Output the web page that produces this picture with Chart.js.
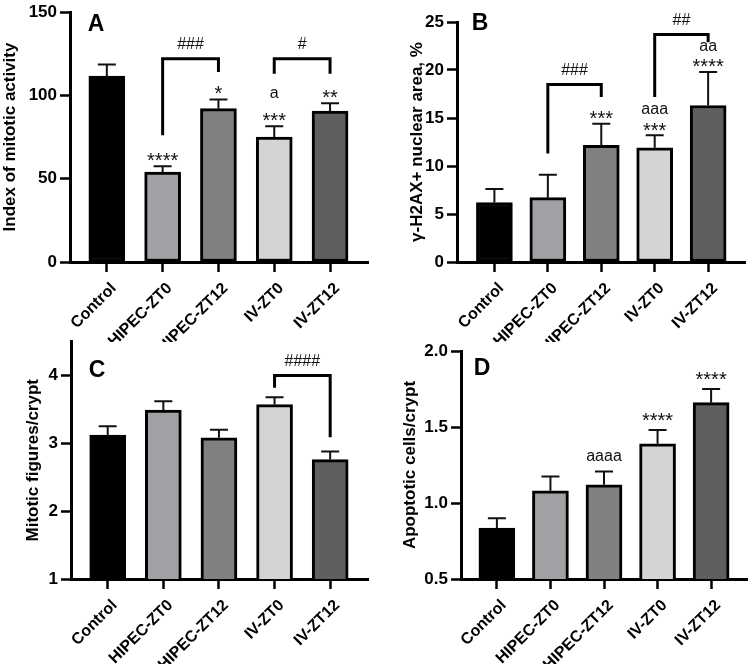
<!DOCTYPE html>
<html>
<head>
<meta charset="utf-8">
<script src="https://cdn.jsdelivr.net/npm/chart.js@4/dist/chart.umd.min.js"></script>
<style>
  html, body { margin: 0; padding: 0; background: #fff; }
  #wrap { position: relative; width: 750px; height: 664px; overflow: hidden; }
  canvas { position: absolute; }
</style>
</head>
<body>
<div id="wrap">
  <canvas id="panelA" width="375" height="342" style="left:0;top:0"></canvas>
  <canvas id="panelB" width="375" height="342" style="left:375px;top:0"></canvas>
  <canvas id="panelC" width="375" height="334" style="left:0;top:330px"></canvas>
  <canvas id="panelD" width="375" height="334" style="left:375px;top:330px"></canvas>
</div>
<script>
// Groups and fills, shared by the four panels
const categories = ["Control", "HIPEC-ZT0", "HIPEC-ZT12", "IV-ZT0", "IV-ZT12"];
const barColors = ["#000000", "#a1a1a5", "#808080", "#d4d4d4", "#5f5f5f"];

// A - index of mitotic activity
const mitoticIndex = [111.5, 54, 92, 75, 90.5];
const mitoticIndexSd = [7, 3.5, 5.5, 6.5, 4.7];
const mitoticIndexStars = ["", "****", "*", "***", "**"];
const mitoticIndexLetters = ["", "", "", "a", ""];
const mitoticIndexBrackets = [
  // from, to, top, left leg end, right leg end, label
  [1, 2, 122, 76, 114, "###"],
  [3, 4, 122, 113, 113, "#"],
];

// B - gamma-H2AX positive nuclear area
const h2axArea = [6.2, 6.7, 12.15, 11.9, 16.3];
const h2axAreaSd = [1.4, 2.4, 2.25, 1.3, 3.5];
const h2axStars = ["", "", "***", "***", "****"];
const h2axLetters = ["", "", "", "aaa", "aa"];
const h2axBrackets = [
  [1, 2, 18.5, 11.3, 17.2, "###"],
  [3, 4, 23.7, 17.2, 22.9, "##"],
];

// C - mitotic figures per crypt
const mitoticFigures = [3.12, 3.49, 3.08, 3.57, 2.76];
const mitoticFiguresSd = [0.13, 0.13, 0.12, 0.11, 0.12];
const mitoticFiguresStars = ["", "", "", "", ""];
const mitoticFiguresLetters = ["", "", "", "", ""];
const mitoticFiguresBrackets = [[3, 4, 4.0, 3.82, 3.09, "####"]];

// D - apoptotic cells per crypt
const apoptoticCells = [0.835, 1.08, 1.12, 1.39, 1.66];
const apoptoticCellsSd = [0.065, 0.095, 0.087, 0.09, 0.09];
const apoptoticStars = ["", "", "", "****", "****"];
const apoptoticLetters = ["", "", "aaaa", "", ""];
const apoptoticBrackets = [];

Chart.defaults.font.family = "'Liberation Sans', Arial, sans-serif";
Chart.defaults.color = "#000";

const markPlugin = {
  id: "marks",
  afterDatasetsDraw(chart, args, opts) {
    const ctx = chart.ctx;
    const xs = chart.scales.x;
    const ys = chart.scales.y;
    ctx.save();

    // error bars (upper SD only)
    ctx.strokeStyle = "#111";
    ctx.lineWidth = 2;
    opts.values.forEach((v, i) => {
      const x = xs.getPixelForValue(i);
      const y0 = ys.getPixelForValue(v);
      const y1 = ys.getPixelForValue(v + opts.sd[i]);
      ctx.beginPath();
      ctx.moveTo(x, y0);
      ctx.lineTo(x, y1);
      ctx.moveTo(x - 9, y1);
      ctx.lineTo(x + 9, y1);
      ctx.stroke();
    });

    // significance marks above bars
    ctx.fillStyle = "#111";
    ctx.textAlign = "center";
    ctx.textBaseline = "alphabetic";
    opts.values.forEach((v, i) => {
      const x = xs.getPixelForValue(i);
      const top = ys.getPixelForValue(v + opts.sd[i]);
      let center = top - opts.gap;
      if (opts.stars[i]) {
        ctx.font = "20px 'Liberation Sans', Arial, sans-serif";
        ctx.fillText(opts.stars[i], x, center + 11.5);
        center -= opts.letterGap;
      }
      if (opts.letters[i]) {
        ctx.font = "16px 'Liberation Sans', Arial, sans-serif";
        ctx.fillText(opts.letters[i], x, center + 4);
      }
    });

    // comparison brackets
    ctx.lineWidth = 3;
    ctx.lineJoin = "miter";
    ctx.strokeStyle = "#000";
    opts.brackets.forEach(([from, to, top, leftEnd, rightEnd, label]) => {
      const x1 = xs.getPixelForValue(from);
      const x2 = xs.getPixelForValue(to);
      const yTop = ys.getPixelForValue(top);
      ctx.beginPath();
      ctx.moveTo(x1, ys.getPixelForValue(leftEnd));
      ctx.lineTo(x1, yTop);
      ctx.lineTo(x2, yTop);
      ctx.lineTo(x2, ys.getPixelForValue(rightEnd));
      ctx.stroke();
      ctx.font = "16px 'Liberation Sans', Arial, sans-serif";
      ctx.fillText(label, (x1 + x2) / 2, yTop - 15 + 5.5);
    });

    // panel letter
    ctx.font = "bold 23px 'Liberation Sans', Arial, sans-serif";
    ctx.fillStyle = "#000";
    ctx.textBaseline = "middle";
    ctx.fillText(opts.letter, opts.letterX, opts.letterY);
    ctx.restore();
  },
};

function makePanel(id, p) {
  const canvas = document.getElementById(id);
  return new Chart(canvas.getContext("2d"), {
    type: "bar",
    data: {
      datasets: [
        {
          data: p.values.map((v, i) => ({ x: i, y: v })),
          backgroundColor: barColors,
          borderColor: "#000",
          borderWidth: 3,
          borderSkipped: false,
          barThickness: 36,
        },
      ],
    },
    plugins: [markPlugin],
    options: {
      responsive: false,
      animation: false,
      layout: { padding: { top: p.padTop, right: p.padRight, left: 0, bottom: 0 } },
      plugins: {
        legend: { display: false },
        tooltip: { enabled: false },
        marks: {
          values: p.values,
          sd: p.sd,
          stars: p.stars,
          letters: p.letters,
          brackets: p.brackets,
          gap: p.gap,
          letterGap: p.letterGap,
          letter: p.letter,
          letterX: p.letterX,
          letterY: p.letterY,
        },
      },
      scales: {
        x: {
          type: "linear",
          min: p.xMin,
          max: p.xMax,
          offset: false,
          afterBuildTicks: (scale) => {
            scale.ticks = categories.map((c, i) => ({ value: i }));
          },
          afterFit: (scale) => {
            scale.height = p.xAxisHeight;
          },
          grid: {
            offset: false,
            drawOnChartArea: false,
            drawTicks: true,
            tickLength: 10,
            tickWidth: 2.5,
            tickColor: "#000",
          },
          border: { color: "#000", width: 3 },
          ticks: {
            autoSkip: false,
            minRotation: 45,
            maxRotation: 45,
            padding: 7,
            labelOffset: 7,
            color: "#000",
            font: { size: 16, weight: "bold" },
            callback: (v) => categories[v],
          },
        },
        y: {
          min: p.yMin,
          max: p.yMax,
          afterBuildTicks: (scale) => {
            scale.ticks = scale.ticks.filter((t) => t.value <= p.yTop + 1e-9);
          },
          afterFit: (scale) => {
            scale.width = p.yAxisWidth;
          },
          grid: {
            drawOnChartArea: false,
            drawTicks: true,
            tickLength: 10,
            tickWidth: 2.5,
            tickColor: "#000",
          },
          border: { color: "#000", width: 3 },
          ticks: {
            stepSize: p.step,
            padding: 3,
            color: "#000",
            font: { size: 17, weight: "bold", lineHeight: 1 },
            callback: p.tickFormat,
          },
          title: {
            display: true,
            text: p.title,
            color: "#000",
            padding: { top: p.titlePad, bottom: 0 },
            font: { size: 17, weight: "bold" },
          },
        },
      },
    },
  });
}

makePanel("panelA", {
  values: mitoticIndex, sd: mitoticIndexSd, stars: mitoticIndexStars,
  letters: mitoticIndexLetters, brackets: mitoticIndexBrackets,
  gap: 11, letterGap: 21, letter: "A", letterX: 96, letterY: 25,
  yMin: 0, yMax: 150, yTop: 150, step: 50, tickFormat: (v) => v,
  title: "Index of mitotic activity", titlePad: 0,
  xMin: -0.66, xMax: 4.68, padTop: 12, padRight: 7,
  yAxisWidth: 70, xAxisHeight: 80,
});

makePanel("panelB", {
  values: h2axArea, sd: h2axAreaSd, stars: h2axStars,
  letters: h2axLetters, brackets: h2axBrackets,
  gap: 10, letterGap: 15, letter: "B", letterX: 105, letterY: 24,
  yMin: 0, yMax: 25, yTop: 25, step: 5, tickFormat: (v) => v,
  title: "γ-H2AX+ nuclear area, %", titlePad: 32,
  xMin: -0.7, xMax: 4.69, padTop: 22, padRight: 5,
  yAxisWidth: 82, xAxisHeight: 80,
});

makePanel("panelC", {
  values: mitoticFigures, sd: mitoticFiguresSd, stars: mitoticFiguresStars,
  letters: mitoticFiguresLetters, brackets: mitoticFiguresBrackets,
  gap: 10, letterGap: 15, letter: "C", letterX: 97, letterY: 41,
  yMin: 1, yMax: 4.5, yTop: 4, step: 1, tickFormat: (v) => v,
  title: "Mitotic figures/crypt", titlePad: 23,
  xMin: -0.66, xMax: 4.68, padTop: 8, padRight: 7,
  yAxisWidth: 71, xAxisHeight: 85,
});

makePanel("panelD", {
  values: apoptoticCells, sd: apoptoticCellsSd, stars: apoptoticStars,
  letters: apoptoticLetters, brackets: apoptoticBrackets,
  gap: 15, letterGap: 15, letter: "D", letterX: 107, letterY: 39,
  yMin: 0.5, yMax: 2, yTop: 2, step: 0.5, tickFormat: (v) => v.toFixed(1),
  title: "Apoptotic cells/crypt", titlePad: 25,
  xMin: -0.67, xMax: 4.67, padTop: 21, padRight: 3,
  yAxisWidth: 86, xAxisHeight: 85,
});
</script>
</body>
</html>
